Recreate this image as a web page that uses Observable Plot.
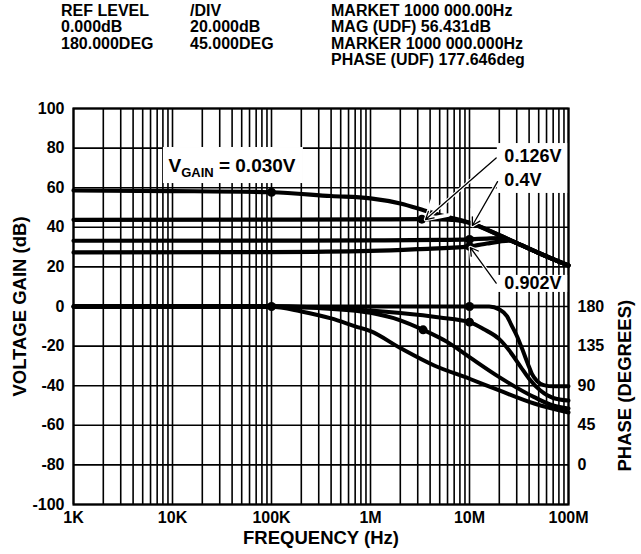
<!DOCTYPE html>
<html><head><meta charset="utf-8">
<script src="https://cdn.jsdelivr.net/npm/d3@7"></script>
<script src="https://cdn.jsdelivr.net/npm/@observablehq/plot@0.6"></script>
<style>
html,body{margin:0;padding:0;background:#fff;}
body{font-family:"Liberation Sans",Arial,sans-serif;font-weight:bold;color:#000;}
#wrap{position:relative;width:641px;height:554px;overflow:hidden;}
#hdr{position:relative;height:80px;font-size:16px;line-height:16.3px;}
.col{position:absolute;top:3px;white-space:pre;}
#chart svg{display:block;}
</style></head><body>
<div id="wrap"><div id="hdr"></div><div id="chart"></div></div>
<script>
// ---------- header texts ----------
const headerCol1 = ["REF LEVEL", "0.000dB", "180.000DEG"];
const headerCol2 = ["/DIV", "20.000dB", "45.000DEG"];
const headerCol3 = ["MARKET 1000 000.00Hz", "MAG (UDF) 56.431dB", "MARKER 1000 000.000Hz", "PHASE (UDF) 177.646deg"];

// ---------- axis ticks ----------
const xTicks = [1e3, 1e4, 1e5, 1e6, 1e7, 1e8];
const xTickLabels = ["1K", "10K", "100K", "1M", "10M", "100M"];
const gainTicks = [-100, -80, -60, -40, -20, 0, 20, 40, 60, 80, 100];
const phaseTicks = [180, 135, 90, 45, 0];

// ---------- gain curves (dB) ----------
const gain030Freq = [1e3, 1e4, 1e5, 4e5, 1e6, 2e6, 3.5e6, 5e6, 1e7, 2e7, 3e7, 5e7, 1e8];
const gain030 =     [58.6, 58.3, 57.7, 55.8, 54.6, 52, 48.5, 46.2, 42.3, 36, 32, 27, 20.7];
const gain126Freq = [1e3, 1e5, 1e6, 3.3e6, 5e6, 7e6, 1e7, 2e7, 3e7, 5e7, 1e8];
const gain126 =     [43.8, 43.9, 44, 44.1, 44, 43.7, 42.3, 36, 32, 27, 20.7];
const gain040Freq = [1e3, 1e5, 1e6, 5e6, 1e7, 1.5e7, 2e7, 2.5e7, 3e7, 5e7, 1e8];
const gain040 =     [33.2, 33.3, 33.4, 33.6, 33.9, 34.3, 34.5, 33.7, 32, 27, 20.7];
const gain902Freq = [1e3, 1e5, 1e6, 3e6, 1e7, 1.5e7, 2e7, 2.5e7, 3e7, 5e7, 1e8];
const gain902 =     [27.3, 27.5, 28.1, 29, 30.4, 31.8, 32.8, 33.3, 32, 27, 20.7];
const gainMarkFreq = [1e5, 3.3e6, 1e7, 1e7];
const gainMark =     [57.7, 44.1, 33.9, 30.4];

// ---------- phase curves (degrees) ----------
const phaseAFreq = [1e3, 1e5, 1e6, 1e7, 15.8e6, 20e6, 24e6, 26.3e6, 30.2e6, 34.7e6, 38.9e6, 42.7e6, 47.9e6, 56.2e6, 70.8e6, 1e8];
const phaseA =     [180, 180, 180, 180, 180, 176.6, 168.75, 159.75, 146.25, 129.4, 114.75, 103.5, 95.6, 90.7, 89.3, 89.3];
const phaseBFreq = [1e3, 1e5, 3e5, 1e6, 2e6, 5e6, 1e7, 1.4e7, 2e7, 2.5e7, 3.3e7, 4e7, 5.2e7, 7e7, 1e8];
const phaseB =     [180.7, 180.6, 178.9, 175.5, 172.6, 167.6, 162.2, 154.1, 142.9, 130.5, 111.2, 97.9, 84.6, 76, 73.1];
const phaseCFreq = [1e3, 1e5, 3e5, 1e6, 2e6, 3.4e6, 6e6, 1e7, 2e7, 4.5e7, 7e7, 1e8];
const phaseC =     [179.3, 179.5, 178.2, 172.8, 164.25, 153.45, 139.5, 122.4, 99.7, 77, 67.5, 64.1];
const phaseDFreq = [1e3, 1e5, 2e5, 4e5, 7e5, 1e6, 2e6, 4.4e6, 1e7, 2e7, 4.5e7, 1e8];
const phaseD =     [179.6, 179.8, 174.4, 166.5, 157.5, 151.9, 132.75, 112.95, 97.9, 84.6, 69.75, 59.6];
const phaseMarkFreq = [1e5, 3.4e6, 1e7, 1e7];
const phaseMark =     [180, 153.45, 180, 162.2];

// ---------- annotations ----------
const vgainParts = ["V", "GAIN", " = 0.030V"];
const labelTexts = ["0.126V", "0.4V", "0.902V"];
const labelFreq = [22.5e6, 22.5e6, 22.5e6];
const labelDb = [75.7, 64.0, 11.5];
const vgainFreq = 9.1e3, vgainDb = 70.8;
const boxX1 = [19.1e6, 19.1e6, 8.1e3];
const boxX2 = [1e8, 1e8, 2.1e5];
const boxY1 = [57.1, 7.1, 62.1];
const boxY2 = [82.3, 15.7, 80.3];
const arrowX1 = [18.6e6, 19.2e6, 18.6e6];
const arrowY1 = [75.0, 63.1, 11.8];
const arrowX2 = [3.6e6, 10.7e6, 10.2e6];
const arrowY2 = [43.9, 40.9, 29.8];

// ---------- helpers ----------
const degToDb = d => (d - 180) / 45 * 20;
const zip = (fs, vs, key) => fs.map((f, i) => ({f, v: vs[i], key}));

// header
const hdr = document.getElementById("hdr");
[[headerCol1, 61], [headerCol2, 190], [headerCol3, 331]].forEach(([lines, left]) => {
  const d = document.createElement("div");
  d.className = "col"; d.style.left = left + "px";
  d.textContent = lines.join("\n");
  hdr.appendChild(d);
});

const gainData = [
  ...zip(gain030Freq, gain030, "g030"),
  ...zip(gain126Freq, gain126, "g126"),
  ...zip(gain040Freq, gain040, "g040"),
  ...zip(gain902Freq, gain902, "g902")
];
const phaseData = [
  ...zip(phaseDFreq, phaseD, "pD"),
  ...zip(phaseCFreq, phaseC, "pC"),
  ...zip(phaseBFreq, phaseB, "pB"),
  ...zip(phaseAFreq, phaseA, "pA")
].map(d => ({...d, v: degToDb(d.v)}));
const markData = [
  ...zip(gainMarkFreq, gainMark, "g"),
  ...zip(phaseMarkFreq, phaseMark.map(degToDb), "p")
];

const gridFreq = [];
for (let e = 3; e < 8; e++) for (let k = 1; k < 10; k++) gridFreq.push(k * Math.pow(10, e));
gridFreq.push(1e8);

const boxes = boxX1.map((x1, i) => ({x1, x2: boxX2[i], y1: boxY1[i], y2: boxY2[i]}));
const arrows = arrowX1.map((x1, i) => ({x1, y1: arrowY1[i], x2: arrowX2[i], y2: arrowY2[i]}));
const labels = labelTexts.map((t, i) => ({t, f: labelFreq[i], v: labelDb[i]}));
const vgainText = vgainParts.join("");

const FS = 16, TS = 18.5, AS = 18, VS = 19;
const chart = Plot.plot({
  width: 641, height: 474,
  marginTop: 28, marginLeft: 73, marginRight: 73, marginBottom: 50,
  x: {type: "log", domain: [1e3, 1e8]},
  y: {domain: [-100, 100]},
  style: {fontFamily: "'Liberation Sans', Arial, sans-serif", fontWeight: "bold", fontSize: FS + "px", color: "#000", background: "#fff", overflow: "visible"},
  marks: [
    Plot.ruleX(gridFreq, {x: d => d, stroke: "#000", strokeWidth: 1.6}),
    Plot.ruleY(gainTicks, {y: d => d, stroke: "#000", strokeWidth: 1.6}),
    Plot.rect(boxes, {x1: "x1", x2: "x2", y1: "y1", y2: "y2", fill: "#fff"}),
    Plot.line(phaseData, {x: "f", y: "v", z: "key", stroke: "#000", strokeWidth: 4, curve: "monotone-x"}),
    Plot.line(gainData, {x: "f", y: "v", z: "key", stroke: "#000", strokeWidth: 4.2, curve: "monotone-x"}),
    Plot.dot(markData, {x: "f", y: "v", r: 4.5, fill: "#000", stroke: null}),
    Plot.arrow(arrows, {x1: "x1", y1: "y1", x2: "x2", y2: "y2", stroke: "#fff", strokeWidth: 3.5, headLength: 10}),
    Plot.arrow(arrows, {x1: "x1", y1: "y1", x2: "x2", y2: "y2", stroke: "#000", strokeWidth: 1.3, headLength: 10}),
    Plot.text(labels, {x: "f", y: "v", text: "t", textAnchor: "start", fontSize: AS, fontWeight: "bold", fill: "#000"}),
    Plot.text([vgainText], {x: () => vgainFreq, y: () => vgainDb, text: d => d, textAnchor: "start", fontSize: VS, fontWeight: "bold", fill: "#000"}),
    Plot.frame({stroke: "#000", strokeWidth: 2.2}),
    Plot.axisX({ticks: xTicks, tickFormat: d => xTickLabels[xTicks.indexOf(d)], tickSize: 0, tickPadding: 7, label: null, fontSize: FS}),
    Plot.axisY({ticks: gainTicks, tickFormat: d => String(d), tickSize: 0, tickPadding: 9, label: null, fontSize: FS}),
    Plot.axisY({anchor: "right", ticks: phaseTicks.map(degToDb), tickFormat: d => String(Math.round(d * 45 / 20 + 180)), tickSize: 0, tickPadding: 9, label: null, fontSize: FS}),
    Plot.text(["VOLTAGE GAIN (dB)"], {frameAnchor: "left", dx: -53, rotate: -90, textAnchor: "middle", lineAnchor: "middle", text: d => d, fontSize: TS, fontWeight: "bold", fill: "#000"}),
    Plot.text([{t: "PHASE (DEGREES)", v: degToDb(90)}], {y: "v", frameAnchor: "right", dx: 57, rotate: -90, textAnchor: "middle", lineAnchor: "middle", text: "t", fontSize: TS, fontWeight: "bold", fill: "#000"}),
    Plot.text(["FREQUENCY (Hz)"], {frameAnchor: "bottom", dy: 34, textAnchor: "middle", lineAnchor: "middle", text: d => d, fontSize: TS, fontWeight: "bold", fill: "#000"})
  ]
});
document.getElementById("chart").appendChild(chart);

// subscript for V_GAIN
d3.select(chart).selectAll("text").filter(function () { return this.textContent === vgainText; })
  .each(function () {
    const t = d3.select(this);
    t.text(null);
    t.append("tspan").text(vgainParts[0]);
    t.append("tspan").attr("font-size", 13).attr("dy", 4.5).text(vgainParts[1]);
    t.append("tspan").attr("dy", -4.5).text(vgainParts[2]);
  });
</script>
</body></html>
